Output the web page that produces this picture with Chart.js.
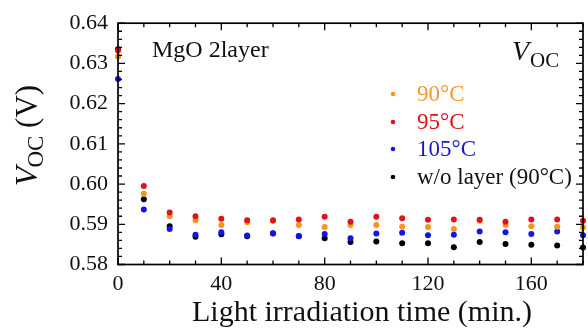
<!DOCTYPE html>
<html>
<head>
<meta charset="utf-8">
<script src="https://cdn.jsdelivr.net/npm/chart.js@4"></script>
<style>
html,body{margin:0;padding:0;background:#fff;}
#wrap{width:588px;height:329px;}
</style>
</head>
<body>
<div id="wrap"><canvas id="c" width="588" height="329"></canvas></div>
<script>
const times = [0,10,20,30,40,50,60,70,80,90,100,110,120,130,140,150,160,170,180];
const v90 = [0.6317,0.5976,0.5920,0.5910,0.5898,0.5905,0.5908,0.5898,0.5893,0.5898,0.5898,0.5894,0.5893,0.5888,0.5909,0.5898,0.5895,0.5894,0.5892];
const v95 = [0.6332,0.5995,0.5929,0.5920,0.5914,0.5910,0.5910,0.5912,0.5919,0.5906,0.5919,0.5915,0.5911,0.5912,0.5911,0.5906,0.5912,0.5912,0.5909];
const v105 = [0.6261,0.5937,0.5888,0.5874,0.5880,0.5872,0.5878,0.5871,0.5876,0.5865,0.5877,0.5879,0.5873,0.5874,0.5882,0.5880,0.5876,0.5882,0.5873];
const vNoLayer = [0.6335,0.5962,0.5895,0.5869,0.5875,0.5870,0.5877,0.5870,0.5865,0.5856,0.5857,0.5853,0.5853,0.5843,0.5856,0.5851,0.5849,0.5847,0.5842];
const seriesLabels = ['90°C','95°C','105°C','w/o layer (90°C)'];
const xTickLabels = [0,40,80,120,160];
const yTickLabels = [0.58,0.59,0.60,0.61,0.62,0.63,0.64];

const colors = ['#f7931e','#e0121c','#1414e6','#000000'];
const textColors = ['#f39a2c','#d8141e','#1a1ac4','#111111'];
const SERIF = '"Liberation Serif","DejaVu Serif",serif';

function pts(arr){ return times.map((t,i)=>({x:t,y:arr[i]})); }

const decor = {
  id:'decor',
  afterDraw(chart){
    const ctx = chart.ctx, a = chart.chartArea;
    const xs = chart.scales.x, ys = chart.scales.y;
    ctx.save();
    ctx.strokeStyle = '#000';
    ctx.lineWidth = 1.7;
    ctx.strokeRect(a.left, a.top, a.right-a.left, a.bottom-a.top);
    ctx.lineWidth = 1.3;
    ctx.beginPath();
    for(let t=0;t<=180;t+=10){
      const px = xs.getPixelForValue(t);
      const len = (t%40===0)?7:4;
      ctx.moveTo(px,a.bottom); ctx.lineTo(px,a.bottom-len);
      ctx.moveTo(px,a.top); ctx.lineTo(px,a.top+len);
    }
    for(let k=0;k<=30;k++){
      const v = 0.58 + k*0.002;
      const py = ys.getPixelForValue(v);
      const len = (k%5===0)?7:4;
      ctx.moveTo(a.left,py); ctx.lineTo(a.left+len,py);
      ctx.moveTo(a.right,py); ctx.lineTo(a.right-len,py);
    }
    ctx.stroke();

    // axis title x
    ctx.fillStyle = '#111';
    ctx.font = '30px '+SERIF;
    ctx.textAlign = 'center';
    ctx.textBaseline = 'alphabetic';
    ctx.fillText('Light irradiation time (min.)', 362, 321);

    // y title rotated
    ctx.save();
    ctx.translate(37, 135);
    ctx.rotate(-Math.PI/2);
    ctx.textAlign = 'left';
    const f1 = 'italic 32px '+SERIF, f2 = '23px '+SERIF, f3 = '31px '+SERIF;
    ctx.font = f1; const w1 = ctx.measureText('V').width;
    ctx.font = f2; const w2 = ctx.measureText('OC').width;
    ctx.font = f3; const w3 = ctx.measureText(' (V)').width;
    let x0 = -(w1+w2+w3)/2;
    ctx.font = f1; ctx.fillText('V', x0, 0);
    ctx.font = f2; ctx.fillText('OC', x0+w1-1, 6);
    ctx.font = f3; ctx.fillText(' (V)', x0+w1+w2-1, 0);
    ctx.restore();

    // MgO label
    ctx.textAlign = 'left';
    ctx.font = '24px '+SERIF;
    ctx.fillText('MgO 2layer', 152, 57);

    // top-right V_OC
    ctx.font = 'italic 28px '+SERIF;
    ctx.fillText('V', 512, 60);
    ctx.font = '21px '+SERIF;
    ctx.fillText('OC', 530, 67);

    // legend
    const ly = [94,122,149,177];
    ctx.font = '23px '+SERIF;
    ctx.textBaseline = 'middle';
    for(let i=0;i<4;i++){
      ctx.fillStyle = colors[i];
      ctx.beginPath(); ctx.arc(393, ly[i], 2.3, 0, Math.PI*2); ctx.fill();
      ctx.fillStyle = textColors[i];
      ctx.fillText(seriesLabels[i], 417, ly[i]+1);
    }
    ctx.restore();
  }
};

const ds = (label, arr, color, order) => ({
  label, data: pts(arr), backgroundColor: color, borderColor: color,
  pointRadius: 3, pointBorderWidth: 0, pointHoverRadius: 3, order, clip: 6
});

new Chart(document.getElementById('c'), {
  type:'scatter',
  data:{ datasets:[
    ds(seriesLabels[3], vNoLayer, colors[3], 4),
    ds(seriesLabels[2], v105, colors[2], 3),
    ds(seriesLabels[0], v90, colors[0], 2),
    ds(seriesLabels[1], v95, colors[1], 1)
  ]},
  options:{
    responsive:false, animation:false, devicePixelRatio:1,
    layout:{ padding:{ left:0, top:22, right:5, bottom:0 } },
    plugins:{ legend:{display:false}, tooltip:{enabled:false} },
    scales:{
      x:{
        type:'linear', min:0, max:180,
        grid:{ display:false, drawTicks:false }, border:{display:false},
        afterBuildTicks(s){ s.ticks = xTickLabels.map(v=>({value:v})); },
        afterFit(s){ s.height = 64.5; },
        ticks:{ padding:7, color:'#111', font:{family:SERIF, size:22}, maxRotation:0,
          callback:(v)=>String(v) }
      },
      y:{
        type:'linear', min:0.58, max:0.64,
        grid:{ display:false, drawTicks:false }, border:{display:false},
        afterBuildTicks(s){ s.ticks = yTickLabels.map(v=>({value:v})); },
        afterFit(s){ s.width = 118; },
        ticks:{ padding:10, color:'#111', font:{family:SERIF, size:22},
          callback:(v)=>Number(v).toFixed(2) }
      }
    }
  },
  plugins:[decor]
});
</script>
</body>
</html>
